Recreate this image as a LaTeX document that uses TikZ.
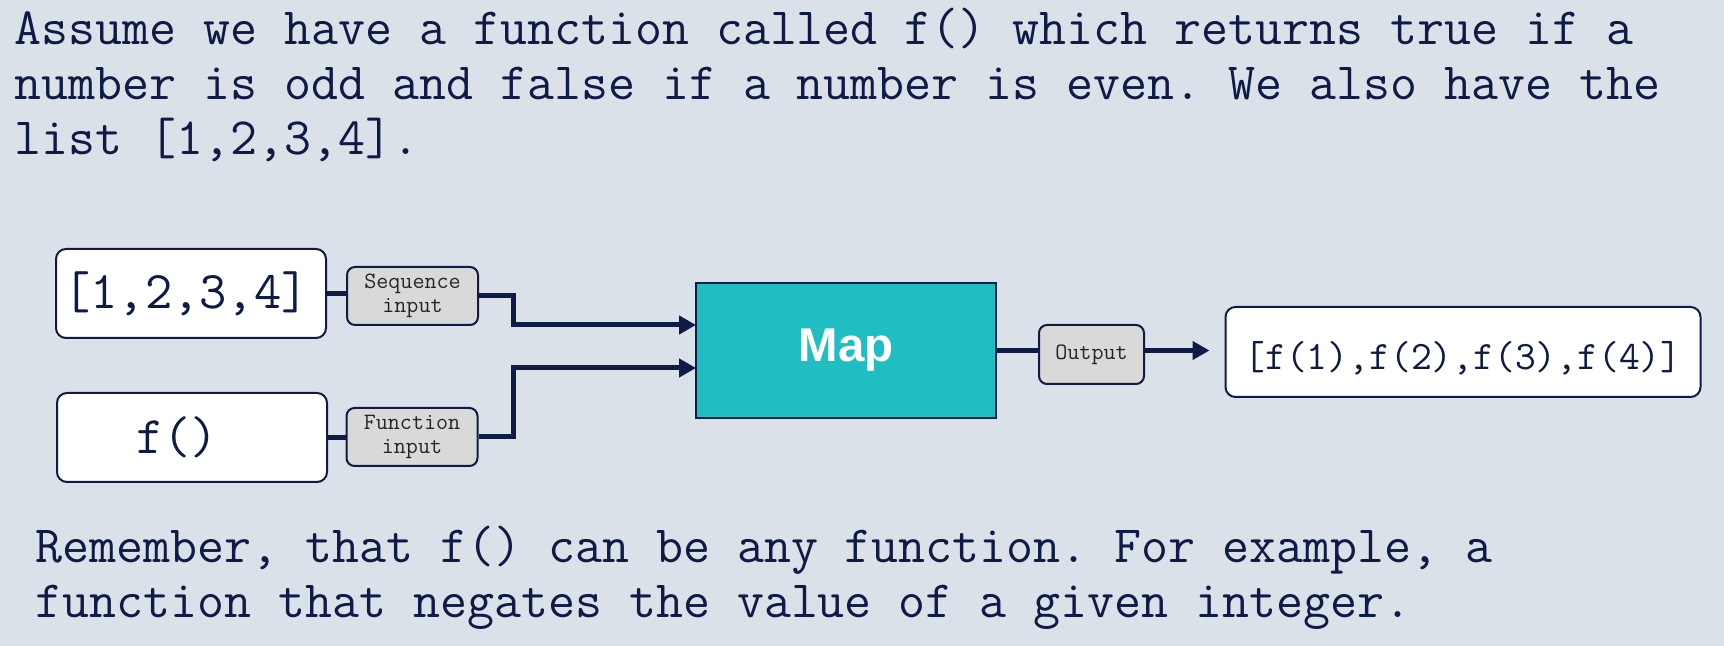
\documentclass[tikz,border=0pt]{standalone}
\usepackage{fontspec}
\newfontfamily\mapfont{Liberation Sans}
\usetikzlibrary{arrows.meta}

\definecolor{navy}{HTML}{0E1B47}
\definecolor{bggray}{HTML}{DAE1E8}
\definecolor{mapteal}{HTML}{20BEC2}
\definecolor{portgray}{HTML}{D9D9D9}

\begin{document}
\frenchspacing
\begin{tikzpicture}[x=0.5pt, y=-0.5pt,
  textline/.style={anchor=base west, inner sep=0, text=navy, font=\fontsize{26.2}{28}\selectfont\ttfamily},
  valuebox/.style={draw=navy, line width=1pt, fill=white, rounded corners=5pt, minimum width=135pt, minimum height=44.5pt, text=navy, font=\fontsize{26.5}{28}\selectfont\ttfamily},
  portbox/.style={draw=navy, line width=1pt, fill=portgray, rounded corners=4pt, minimum width=65.5pt, minimum height=29pt, align=center, inner sep=0, text=black!85, font=\fontsize{11.7}{12}\selectfont\ttfamily},
  flow/.style={draw=navy, line width=2.5pt},
  flowarrow/.style={flow, -{Triangle[length=8.5pt, width=9pt]}}]

\useasboundingbox (0,0) rectangle (1724,646);
\fill[bggray] (0,0) rectangle (1724,646);

% text above and below
\node[textline] (intro1) at (14,45) {Assume we have a function called f() which returns true if a};
\node[textline] (intro2) at (14,100) {number is odd and false if a number is even. We also have the};
\node[textline] (intro3) at (14,155) {list [1,2,3,4].};
\node[textline] (note1) at (35,562) {Remember, that f() can be any function. For example, a};
\node[textline] (note2) at (35,617) {function that negates the value of a given integer.};

% inputs
\node[valuebox, minimum width=0pt, text width=127.8pt, inner xsep=3.6pt, align=left] (seqval) at (191,293.5) {[1,2,3,4]};
\node[valuebox, minimum width=0pt, text width=56pt, inner xsep=39.5pt, align=left] (funcval) at (192,437.5) {f()};
\node[portbox] (seqport) at (412.5,296) {Sequence\\input};
\node[portbox] (funcport) at (412,437) {Function\\input};

% map and output
\node[draw=navy, line width=1pt, fill=mapteal, minimum width=150pt, minimum height=67.5pt, text=white, font=\mapfont\bfseries\fontsize{23.7}{25}\selectfont] (map) at (846,350.5) {Map};
\node[portbox, minimum width=52.5pt, minimum height=29.5pt] (outport) at (1091.5,354.5) {Output};
\node[valuebox, minimum width=237.5pt, minimum height=45pt, text height=17.2pt, text depth=0pt, font=\fontsize{20.2}{22}\selectfont\ttfamily] (result) at (1463,352) {[f(1),f(2),f(3),f(4)]};

\coordinate (bendseq) at (513,325);
\coordinate (bendfunc) at (513,368);
\coordinate (mapseq) at (696,325);
\coordinate (mapfunc) at (696,368);

\draw[flow] (seqval.east) -- (seqval.east -| seqport.west);
\draw[flow] (funcval.east) -- (funcval.east -| funcport.west);
\draw[flowarrow] (seqport.east) -| (bendseq) -- (mapseq);
\draw[flowarrow] (funcport.east) -| (bendfunc) -- (mapfunc);
\draw[flow] (map.east) -- (map.east -| outport.west);
\draw[flowarrow, shorten >=7.5pt] (map.east -| outport.east) -- (map.east -| result.west);

\end{tikzpicture}
\end{document}
